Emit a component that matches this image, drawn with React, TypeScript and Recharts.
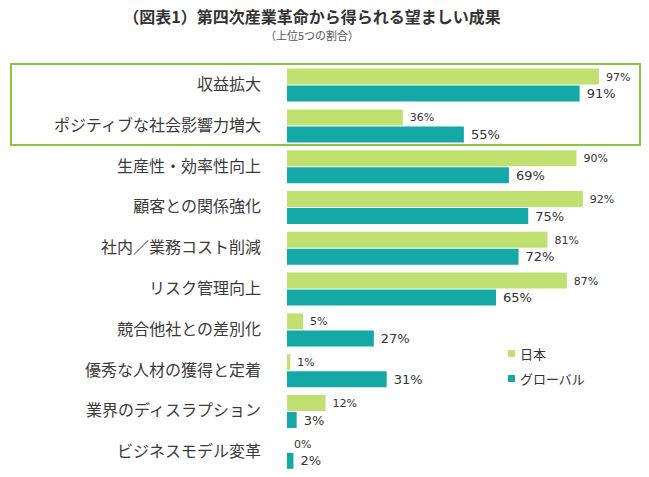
import React from 'react';
import { BarChart, Bar, XAxis, YAxis, LabelList } from 'recharts';

// top-5 share of desired outcomes, Japan vs. global (%)
const categories = [
  '収益拡大',
  'ポジティブな社会影響力増大',
  '生産性・効率性向上',
  '顧客との関係強化',
  '社内／業務コスト削減',
  'リスク管理向上',
  '競合他社との差別化',
  '優秀な人材の獲得と定着',
  '業界のディスラプション',
  'ビジネスモデル変革',
];
const japan = [97, 36, 90, 92, 81, 87, 5, 1, 12, 0];
const global = [91, 55, 69, 75, 72, 65, 27, 31, 3, 2];

const seriesNames = { japan: '日本', global: 'グローバル' };
const colors = { japan: '#c0e170', global: '#14a9a6' };

const data = categories.map((name, i) => ({ name, japan: japan[i], global: global[i] }));

const jpFont = '"Noto Sans CJK JP", "Noto Sans", sans-serif';
const numFont = '"DejaVu Sans", Verdana, sans-serif';

const CategoryTick = (props: any) => {
  const { x, y, payload } = props;
  return (
    <text x={x - 18} y={y} dy={5} textAnchor="end" fontSize={16} fill="#3a3a3a" fontFamily={jpFont}>
      {payload.value}
    </text>
  );
};

const LegendBox = () => (
  <div
    style={{
      position: 'absolute', left: 508, top: 341,
      fontFamily: jpFont, fontSize: 13, color: '#333', lineHeight: '25px',
    }}
  >
    {(['japan', 'global'] as const).map((k) => (
      <div key={k} style={{ display: 'flex', alignItems: 'center' }}>
        <span style={{ width: 7, height: 7, background: colors[k], marginRight: 5, display: 'inline-block' }} />
        {seriesNames[k]}
      </div>
    ))}
  </div>
);

const App: React.FC = () => {
  return (
    <div style={{ position: 'absolute', left: 0, top: 0, width: 649, height: 477, background: '#fff' }}>
      <div
        style={{
          position: 'absolute', left: 0, top: 6, width: 624, textAlign: 'center',
          fontFamily: jpFont, fontWeight: 700, fontSize: 16, color: '#333', lineHeight: '20px',
        }}
      >
        （図表1）第四次産業革命から得られる望ましい成果
      </div>
      <div
        style={{
          position: 'absolute', left: 0, top: 28, width: 624, textAlign: 'center',
          fontFamily: jpFont, fontSize: 11, color: '#555', lineHeight: '14px',
        }}
      >
        （上位5つの割合）
      </div>

      <BarChart
        width={649}
        height={477}
        data={data}
        layout="vertical"
        margin={{ top: 64.6, right: 40.4, bottom: 4.4, left: 0 }}
        barSize={16}
        barGap={1}
      >
        <XAxis type="number" domain={[0, 100]} hide />
        <YAxis
          type="category"
          dataKey="name"
          width={287}
          axisLine={false}
          tickLine={false}
          tick={<CategoryTick />}
          interval={0}
        />
        <Bar
          dataKey="japan"
          name={seriesNames.japan}
          fill={colors.japan}
          minPointSize={0.01}
          isAnimationActive={false}
        >
          <LabelList
            dataKey="japan"
            position="right"
            offset={7}
            formatter={(v: any) => `${v}%`}
            style={{ fontSize: 11, fill: '#333', fontFamily: numFont }}
          />
        </Bar>
        <Bar dataKey="global" name={seriesNames.global} fill={colors.global} isAnimationActive={false}>
          <LabelList
            dataKey="global"
            position="right"
            offset={7}
            formatter={(v: any) => `${v}%`}
            style={{ fontSize: 13, fill: '#333', fontFamily: numFont }}
          />
        </Bar>
      </BarChart>

      <LegendBox />

      {/* highlight frame around the first two rows */}
      <div
        style={{
          position: 'absolute', left: 10, top: 63, width: 631, height: 83,
          border: '2px solid #8cc63f', boxSizing: 'border-box', pointerEvents: 'none',
        }}
      />
    </div>
  );
};

export default App;
